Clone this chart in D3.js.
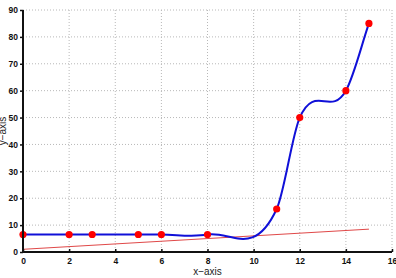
<!DOCTYPE html>
<html>
<head>
<meta charset="utf-8">
<script src="https://cdn.jsdelivr.net/npm/d3@7"></script>
<style>
  body { margin: 0; background: #fff; }
  svg { display: block; font-family: "Liberation Sans", Arial, sans-serif; }
</style>
</head>
<body>
<svg id="chart" width="396" height="278"></svg>
<script>
const xPoints = [0, 2, 3, 5, 6, 8, 11, 12, 14, 15];
const yPoints = [6.5, 6.5, 6.5, 6.5, 6.5, 6.5, 16, 50, 60, 85];
const lineX = [0, 15];
const lineY = [1, 8.5];
const xTicks = [0, 2, 4, 6, 8, 10, 12, 14, 16];
const yTicks = [0, 10, 20, 30, 40, 50, 60, 70, 80, 90];

// cubic hermite in x, slopes = mean of the neighbouring secants
function curveHermiteX(context) {
  let pts = [];
  return {
    areaStart() {}, areaEnd() {},
    lineStart() { pts = []; },
    point(x, y) { pts.push([+x, +y]); },
    lineEnd() {
      const n = pts.length;
      const sec = d3.range(n - 1).map(i => (pts[i + 1][1] - pts[i][1]) / (pts[i + 1][0] - pts[i][0]));
      const m = d3.range(n).map(i => i === 0 ? sec[0] : i === n - 1 ? sec[n - 2] : (sec[i - 1] + sec[i]) / 2);
      context.moveTo(pts[0][0], pts[0][1]);
      for (let i = 0; i < n - 1; i++) {
        const d = (pts[i + 1][0] - pts[i][0]) / 3;
        context.bezierCurveTo(pts[i][0] + d, pts[i][1] + m[i] * d,
          pts[i + 1][0] - d, pts[i + 1][1] - m[i + 1] * d,
          pts[i + 1][0], pts[i + 1][1]);
      }
    }
  };
}

const svg = d3.select('#chart');
const margin = {top: 10, right: 4, bottom: 26, left: 23};
const width = +svg.attr('width');
const height = +svg.attr('height');
const innerWidth = width - margin.left - margin.right;
const innerHeight = height - margin.top - margin.bottom;

const xScale = d3.scaleLinear().domain([0, 16]).range([0, innerWidth]);
const yScale = d3.scaleLinear().domain([0, 90]).range([innerHeight, 0]);

const g = svg.append('g').attr('transform', `translate(${margin.left}, ${margin.top})`);

// dotted grid
g.append('g').selectAll('line').data(xTicks.slice(1)).enter().append('line')
  .attr('x1', d => xScale(d)).attr('x2', d => xScale(d))
  .attr('y1', 0).attr('y2', innerHeight)
  .attr('stroke', '#b8b8b8').attr('stroke-dasharray', '1,2');
g.append('g').selectAll('line').data(yTicks.slice(1)).enter().append('line')
  .attr('y1', d => yScale(d)).attr('y2', d => yScale(d))
  .attr('x1', 0).attr('x2', innerWidth)
  .attr('stroke', '#b8b8b8').attr('stroke-dasharray', '1,2');

// red reference line
const pairs = lineX.map((x, i) => [x, lineY[i]]);
g.append('path')
  .attr('d', d3.line().x(d => xScale(d[0])).y(d => yScale(d[1]))(pairs))
  .attr('fill', 'none').attr('stroke', '#e04848').attr('stroke-width', 1);

// blue curve through the points
const pts = xPoints.map((x, i) => [x, yPoints[i]]);
g.append('path')
  .attr('d', d3.line().curve(curveHermiteX).x(d => xScale(d[0])).y(d => yScale(d[1]))(pts))
  .attr('fill', 'none').attr('stroke', '#1010d8').attr('stroke-width', 2);

g.selectAll('circle').data(pts).enter().append('circle')
  .attr('cx', d => xScale(d[0])).attr('cy', d => yScale(d[1]))
  .attr('r', 3.6).attr('fill', '#ff0000');

// axes
const xAxis = g.append('g').attr('transform', `translate(0, ${innerHeight})`)
  .call(d3.axisBottom(xScale).tickValues(xTicks).tickSize(-3).tickPadding(6));
const yAxis = g.append('g')
  .call(d3.axisLeft(yScale).tickValues(yTicks).tickSize(3).tickPadding(2));
[xAxis, yAxis].forEach(a => {
  a.select('.domain').attr('stroke', '#111').attr('stroke-width', 2);
  a.selectAll('.tick line').attr('stroke', '#111').attr('stroke-width', 1.5);
  a.selectAll('text').attr('font-size', 8.5).attr('font-weight', 'bold').attr('fill', '#111')
    .attr('font-family', '"Liberation Sans", Arial, sans-serif');
});
xAxis.select('.domain').attr('d', `M0,0H${innerWidth}`);
yAxis.select('.domain').attr('d', `M0,${innerHeight}V0`);

svg.append('text').attr('x', margin.left + innerWidth / 2).attr('y', 275)
  .attr('text-anchor', 'middle').attr('font-size', 10).attr('fill', '#222').text('x−axis');
svg.append('text').attr('transform', `translate(6, ${margin.top + innerHeight / 2}) rotate(-90)`)
  .attr('text-anchor', 'middle').attr('font-size', 10).attr('fill', '#222').text('y−axis');
</script>
</body>
</html>
